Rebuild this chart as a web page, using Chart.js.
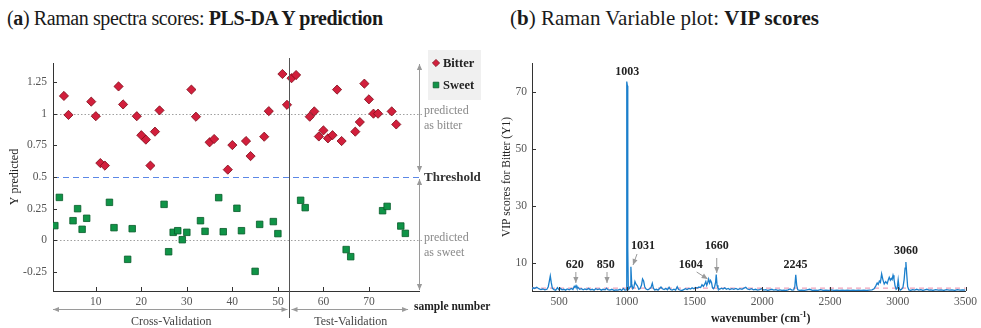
<!DOCTYPE html>
<html><head><meta charset="utf-8">
<script src="https://cdn.jsdelivr.net/npm/chart.js@4/dist/chart.umd.min.js"></script>
<style>
html,body{margin:0;padding:0;background:#fff;width:981px;height:328px;overflow:hidden;}
.t{position:absolute;font-family:'Liberation Serif',serif;font-size:21px;line-height:21px;color:#1a1a1a;white-space:nowrap;}
canvas{position:absolute;top:0;}
</style></head><body>
<div class="t" style="left:7px;top:8px;font-size:20px;letter-spacing:-0.4px">(<b>a</b>) Raman spectra scores: <b>PLS-DA Y prediction</b></div>
<div class="t" style="left:510px;top:8px">(<b>b</b>) Raman Variable plot: <b>VIP scores</b></div>
<canvas id="c1" width="495" height="328" style="left:0"></canvas>
<canvas id="c2" width="486" height="328" style="left:495px"></canvas>
<script>
const FONT = "'Liberation Serif', serif";

// ---------- Panel (a): PLS-DA Y prediction ----------
const classLabels = ['Bitter', 'Sweet'];
const bitterSamples = [3,4,9,10,11,12,15,16,19,20,21,22,23,24,31,32,35,36,39,40,43,44,47,48,51,52,
  53,54,57,58,59,60,61,62,63,64,67,68,69,70,71,72,75,76];
const bitterScores = [1.14,0.99,1.095,0.98,0.61,0.59,1.215,1.073,0.98,0.83,0.795,0.59,0.858,1.026,1.19,0.976,0.774,0.80,0.558,0.752,0.784,0.665,0.818,1.02,1.313,1.07,
  1.28,1.305,0.976,1.018,0.82,0.868,0.805,0.83,1.19,0.784,0.858,0.934,1.237,1.113,1.0,1.0,1.018,0.915];
const sweetSamples = [1,2,5,6,7,8,13,14,17,18,25,26,27,28,29,30,33,34,37,38,41,42,45,46,49,50,
  55,56,65,66,73,74,77,78];
const sweetScores = [0.116,0.339,0.155,0.25,0.087,0.174,0.30,0.10,-0.15,0.092,0.284,-0.09,0.063,0.076,0.005,0.063,0.155,0.071,0.337,0.068,0.253,0.076,-0.245,0.126,0.148,0.053,
  0.316,0.258,-0.073,-0.129,0.234,0.268,0.113,0.055];
const scoreTicks = [-0.25, 0, 0.25, 0.5, 0.75, 1, 1.25];
const sampleTicks = [10, 20, 30, 40, 50, 60, 70];
const classTargets = [1, 0];
const threshold = 0.5;
const cvEnd = 52.5;
const lastSample = 78;

// ---------- Panel (b): VIP scores ----------
const wavenumbers = [300,310,320,335,350,365,380,395,410,420,428,435,442,450,462,475,488,498,510,522,535,548,560,575,590,602,612,618,625,632,640,652,665,678,690,705,718,730,745,758,770,785,798,812,825,840,850,860,875,890,905,920,935,950,962,975,985,994,
  998,1001,1004,1007,1011,1018,1024,1030,1036,1044,1052,1060,1068,1078,1088,1098,1108,1116,1124,1132,1142,1155,1168,1178,1188,1196,1206,1218,1230,1242,1252,1262,1275,1288,1300,1312,1322,1335,1348,1360,1372,1382,1395,1408,1420,1432,1445,1458,1470,1482,1495,1508,1520,1532,1545,1555,1565,1575,1583,1590,1597,1604,1611,1618,1625,1632,1640,1648,1655,1660,1666,1673,1685,1698,1710,1722,1735,1748,1760,1775,1790,1805,1820,1835,1850,1865,1878,1890,1905,1920,1935,1950,1965,1980,1995,
  2010,2025,2040,2055,2070,2085,2100,2115,2130,2145,2160,2175,2190,2205,2218,2232,2240,2247,2254,2262,2275,2290,2310,2330,2350,2370,2390,2410,2430,2450,2470,2490,2510,2530,2550,2570,2590,2610,2630,2650,2670,2690,2710,2730,2750,2770,2790,2810,2825,2838,2848,2856,2864,2872,2881,2890,2900,2911,2922,2930,2937,2945,2952,2958,2965,2972,2980,2988,2996,
  3003,3010,3018,3028,3038,3047,3054,3060,3066,3073,3082,3095,3110,3125,3140,3155,3170,3185,3200,3215,3230,3245,3260,3280,3300,3320,3340,3360,3380,3400,3420,3440,3460,3480,3500];
const vipScores = [0.6,1.1,0.9,1.3,0.8,0.5,0.7,0.4,0.6,1.5,3.5,5.3,3.0,1.0,0.5,0.3,1.2,0.5,0.9,0.4,0.6,0.3,0.7,0.4,0.9,0.5,1.6,1.2,1.9,1.0,1.3,0.6,0.8,0.4,0.7,0.5,0.9,0.4,0.6,0.3,0.8,0.5,0.7,0.3,0.6,0.4,1.0,0.5,0.3,0.6,0.2,0.4,0.3,0.6,0.2,0.9,0.3,0.4,
  18,73.5,72,15,0.5,0.8,1.5,8.5,2.5,0.8,1.3,3.3,2.4,1.8,0.6,0.9,2.0,4.2,3.5,1.5,0.7,0.4,0.8,1.2,2.7,1.0,0.4,0.6,0.3,0.9,1.4,0.8,0.5,0.9,0.4,1.3,0.5,0.3,0.6,0.3,1.5,0.5,0.3,0.2,0.5,0.8,0.5,0.9,0.7,1.1,0.8,1.2,1.0,1.4,1.2,2.2,1.6,2.4,3.3,2.0,3.0,4.2,2.8,3.7,3.0,1.2,0.8,1.5,3.0,5.8,2.0,0.9,0.6,1.0,0.7,1.1,0.6,0.9,0.5,0.8,0.6,0.9,0.5,0.8,0.6,1.0,1.3,0.7,0.5,0.8,0.4,0.6,0.3,0.5,0.8,
  0.3,0.5,0.2,0.4,0.6,0.3,0.5,0.2,0.4,0.2,0.3,0.2,0.4,0.7,0.3,0.4,1.5,5.7,2.0,0.4,0.2,0.3,0.2,0.4,0.6,0.2,0.3,0.2,0.5,0.2,0.3,0.2,0.4,0.2,0.3,0.2,0.3,0.2,0.3,0.2,0.3,0.2,0.3,0.2,0.3,0.2,0.3,0.4,0.8,1.8,2.8,2.3,3.5,3.0,6.0,4.0,2.5,3.3,2.6,3.9,4.8,3.8,4.4,4.0,5.5,4.2,1.8,0.6,1.0,
  3.9,1.0,0.3,0.6,1.2,4.0,8.0,10.2,6.0,1.5,0.4,0.2,0.5,0.3,0.6,0.3,0.5,0.2,0.4,0.6,0.3,0.4,0.2,0.5,0.3,0.4,0.2,0.5,0.3,0.4,0.2,0.5,0.3,0.4,0.3];
const vipTicks = [10, 30, 50, 70];
const wnTicks = [500, 1000, 1500, 2000, 2500, 3000, 3500];
const vipCutoff = 1;
const peakWn = [620, 850, 1003, 1031, 1604, 1660, 2245, 3060];
const peakText = ['620', '850', '1003', '1031', '1604', '1660', '2245', '3060'];

// ---------- helpers ----------
function arrow(ctx, x1, y1, x2, y2, both, color) {
  ctx.save();
  ctx.strokeStyle = color; ctx.fillStyle = color; ctx.lineWidth = 1; ctx.setLineDash([]);
  ctx.beginPath(); ctx.moveTo(x1, y1); ctx.lineTo(x2, y2); ctx.stroke();
  const head = (tx, ty, fx, fy) => {
    const a = Math.atan2(ty - fy, tx - fx), L = 6, W = 2.6;
    ctx.beginPath(); ctx.moveTo(tx, ty);
    ctx.lineTo(tx - L * Math.cos(a) + W * Math.sin(a), ty - L * Math.sin(a) - W * Math.cos(a));
    ctx.lineTo(tx - L * Math.cos(a) - W * Math.sin(a), ty - L * Math.sin(a) + W * Math.cos(a));
    ctx.closePath(); ctx.fill();
  };
  head(x2, y2, x1, y1);
  if (both) head(x1, y1, x2, y2);
  ctx.restore();
}
function inwardTicks(chart, xt, yt) {
  const {ctx, chartArea: a, scales: {x, y}} = chart;
  ctx.save(); ctx.strokeStyle = '#333'; ctx.lineWidth = 1;
  ctx.beginPath();
  xt.forEach(v => { const px = Math.round(x.getPixelForValue(v)) + 0.5; ctx.moveTo(px, a.bottom); ctx.lineTo(px, a.bottom - 4); });
  yt.forEach(v => { const py = Math.round(y.getPixelForValue(v)) + 0.5; ctx.moveTo(a.left, py); ctx.lineTo(a.left + 4, py); });
  ctx.stroke(); ctx.restore();
}
function fixedTicks(list) { return s => { s.ticks = list.map(v => ({value: v})); }; }

const tickFont = {family: FONT, size: 11.5};

// ---------- Chart (a) ----------
const annotA = {
  id: 'annotA',
  beforeDatasetsDraw(chart) {
    const {ctx, chartArea: a, scales: {y}} = chart;
    ctx.save(); ctx.lineWidth = 1;
    ctx.strokeStyle = '#a0a0a0'; ctx.setLineDash([1.5, 2]);
    classTargets.forEach(v => {
      const py = Math.round(y.getPixelForValue(v)) + 0.5;
      ctx.beginPath(); ctx.moveTo(a.left, py); ctx.lineTo(a.right + 4, py); ctx.stroke();
    });
    ctx.strokeStyle = '#5b87e6'; ctx.setLineDash([6, 4]);
    const pt = Math.round(y.getPixelForValue(threshold)) + 0.5;
    ctx.beginPath(); ctx.moveTo(a.left, pt); ctx.lineTo(a.right, pt); ctx.stroke();
    ctx.restore();
  },
  afterDraw(chart) {
    const {ctx, chartArea: a, scales: {x, y}} = chart;
    inwardTicks(chart, sampleTicks, scoreTicks);
    const gray = '#9a9a9a';
    const yT = y.getPixelForValue(threshold);
    const ax = a.right + 0.5;
    arrow(ctx, ax, a.top + 1, ax, yT - 5, true, gray);
    arrow(ctx, ax, yT + 2, ax, a.bottom - 1, true, gray);
    // separator
    const xs = Math.round(x.getPixelForValue(cvEnd)) + 0.5;
    ctx.save(); ctx.strokeStyle = '#555'; ctx.lineWidth = 1;
    ctx.beginPath(); ctx.moveTo(xs, a.top - 5); ctx.lineTo(xs, a.bottom + 27); ctx.stroke(); ctx.restore();
    // bottom arrows
    const ya = a.bottom + 18.5;
    const xe = x.getPixelForValue(lastSample + 0.6);
    arrow(ctx, a.left, ya, xs - 2, ya, true, gray);
    arrow(ctx, xs + 2, ya, xe, ya, true, gray);
    ctx.save();
    ctx.textBaseline = 'middle';
    ctx.fillStyle = '#444'; ctx.font = `12px ${FONT}`; ctx.textAlign = 'center';
    ctx.fillText('Cross-Validation', (a.left + xs) / 2, a.bottom + 30.5);
    ctx.fillText('Test-Validation', (xs + xe) / 2 + 2, a.bottom + 30.5);
    ctx.textAlign = 'left'; ctx.fillStyle = '#222'; ctx.font = `bold 11.5px ${FONT}`;
    ctx.fillText('sample number', a.right - 5, a.bottom + 16);
    // side labels
    const tx = a.right + 5;
    ctx.fillStyle = '#8a8a8a'; ctx.font = `12px ${FONT}`;
    const y1 = y.getPixelForValue(classTargets[0]), y0 = y.getPixelForValue(classTargets[1]);
    ctx.fillText('predicted', tx, y1 - 2.5); ctx.fillText('as bitter', tx, y1 + 12.5);
    ctx.fillText('predicted', tx, y0 - 2.5); ctx.fillText('as sweet', tx, y0 + 12.5);
    ctx.fillStyle = '#333'; ctx.font = `bold 13px ${FONT}`;
    ctx.fillText('Threshold', tx, yT + 0.5);
    // legend
    const lx = a.right + 9, ly = a.top - 13;
    ctx.fillStyle = '#f0f0f0'; ctx.fillRect(lx, ly, 53, 50);
    chart.data.datasets.forEach((ds, i) => {
      const cy = ly + 13 + i * 22, cx = lx + 8;
      ctx.fillStyle = ds.backgroundColor; ctx.strokeStyle = ds.borderColor; ctx.lineWidth = 0.8;
      ctx.beginPath();
      if (ds.pointStyle === 'rectRot') { const r = 3.6; ctx.moveTo(cx - r, cy); ctx.lineTo(cx, cy - r); ctx.lineTo(cx + r, cy); ctx.lineTo(cx, cy + r); ctx.closePath(); }
      else { ctx.rect(cx - 2.8, cy - 2.8, 5.6, 5.6); }
      ctx.fill(); ctx.stroke();
      ctx.fillStyle = '#222'; ctx.font = `bold 12.5px ${FONT}`;
      ctx.fillText(ds.label, cx + 7, cy + 0.5);
    });
    ctx.restore();
  }
};

new Chart(document.getElementById('c1'), {
  type: 'scatter',
  data: {
    datasets: [
      {label: classLabels[0], data: bitterSamples.map((s, i) => ({x: s, y: bitterScores[i]})),
       pointStyle: 'rectRot', pointRadius: 4.6, backgroundColor: '#d21f3c', borderColor: '#7d0a18', borderWidth: 0.8},
      {label: classLabels[1], data: sweetSamples.map((s, i) => ({x: s, y: sweetScores[i]})),
       pointStyle: 'rect', pointRadius: 4.6, backgroundColor: '#0f9447', borderColor: '#075c2a', borderWidth: 0.8}
    ]
  },
  options: {
    responsive: false, animation: false, devicePixelRatio: 1,
    layout: {padding: {left: 0, top: 63, right: 76, bottom: 13}},
    plugins: {legend: {display: false}, tooltip: {enabled: false}},
    scales: {
      x: {type: 'linear', min: 0.6, max: 81, afterBuildTicks: fixedTicks(sampleTicks), afterFit: s => { s.height = 24; },
          grid: {display: false, drawTicks: false}, border: {display: true, color: '#333', width: 1},
          ticks: {font: tickFont, color: '#555', padding: 4, maxRotation: 0, autoSkip: false, callback: v => String(v)}},
      y: {type: 'linear', min: -0.4, max: 1.4, afterBuildTicks: fixedTicks(scoreTicks), afterFit: s => { s.width = 53; },
          grid: {display: false, drawTicks: false}, border: {display: true, color: '#333', width: 1},
          ticks: {font: tickFont, color: '#555', padding: 6, callback: v => String(v)},
          title: {display: true, text: 'Y predicted', font: {family: FONT, size: 12}, color: '#222', padding: {top: 8, bottom: 0}}}
    }
  },
  plugins: [annotA]
});

// ---------- Chart (b) ----------
const notesLayout = {
  '620':  {dx: -0.5, ly: 26, arrow: [0.5, 19, 0.5, 8]},
  '850':  {dx: -0.7, ly: 26, arrow: [0.5, 19, 0.5, 8]},
  '1003': {dx: 0, ly: 219},
  '1031': {dx: 12, ly: 45, arrow: [6, 37, 2, 26]},
  '1604': {dx: -18, ly: 26, arrow: [-12, 19, -1, 12]},
  '1660': {dx: 0.5, ly: 45, arrow: [0.5, 33, 0.5, 18]},
  '2245': {dx: 0, ly: 26},
  '3060': {dx: 0, ly: 40}
};
const annotB = {
  id: 'annotB',
  beforeDatasetsDraw(chart) {
    const {ctx, chartArea: a, scales: {y}} = chart;
    ctx.save(); ctx.strokeStyle = '#f0a3bb'; ctx.lineWidth = 1.2; ctx.setLineDash([5, 4]);
    const py = y.getPixelForValue(vipCutoff);
    ctx.beginPath(); ctx.moveTo(a.left, py); ctx.lineTo(a.right, py); ctx.stroke(); ctx.restore();
  },
  afterDraw(chart) {
    const {ctx, chartArea: a, scales: {x, y}} = chart;
    inwardTicks(chart, wnTicks, vipTicks);
    const y0 = y.getPixelForValue(0);
    ctx.save();
    ctx.textAlign = 'center'; ctx.textBaseline = 'middle';
    peakWn.forEach((w, i) => {
      const L = notesLayout[peakText[i]];
      const px = x.getPixelForValue(w);
      ctx.fillStyle = '#222'; ctx.font = `bold 12px ${FONT}`;
      ctx.fillText(peakText[i], px + L.dx, y0 - L.ly);
      if (L.arrow) arrow(ctx, px + L.arrow[0], y0 - L.arrow[1], px + L.arrow[2], y0 - L.arrow[3], false, '#9a9a9a');
    });
    // x title with superscript
    const cx = (a.left + a.right) / 2 + 12, cy = a.bottom + 28;
    ctx.fillStyle = '#222';
    const main = 'wavenumber (cm', sup = '-1', end = ')';
    ctx.font = `bold 12px ${FONT}`; const w1 = ctx.measureText(main).width, w3 = ctx.measureText(end).width;
    ctx.font = `bold 8px ${FONT}`; const w2 = ctx.measureText(sup).width;
    let sx = cx - (w1 + w2 + w3) / 2;
    ctx.textAlign = 'left';
    ctx.font = `bold 12px ${FONT}`; ctx.fillText(main, sx, cy); sx += w1;
    ctx.font = `bold 8px ${FONT}`; ctx.fillText(sup, sx, cy - 4); sx += w2;
    ctx.font = `bold 12px ${FONT}`; ctx.fillText(end, sx, cy);
    ctx.restore();
  }
};

new Chart(document.getElementById('c2'), {
  type: 'line',
  data: {datasets: [{label: 'VIP', data: wavenumbers.map((w, i) => ({x: w, y: vipScores[i]})),
    borderColor: '#1b7fcc', borderWidth: 1.3, pointRadius: 0, tension: 0, fill: false}]},
  options: {
    responsive: false, animation: false, devicePixelRatio: 1,
    layout: {padding: {left: 0, top: 63, right: 14, bottom: 13}},
    plugins: {legend: {display: false}, tooltip: {enabled: false}},
    scales: {
      x: {type: 'linear', min: 300, max: 3500, afterBuildTicks: fixedTicks(wnTicks), afterFit: s => { s.height = 24; },
          grid: {display: false, drawTicks: false}, border: {display: true, color: '#333', width: 1},
          ticks: {font: tickFont, color: '#555', padding: 4, maxRotation: 0, autoSkip: false, callback: v => String(v)}},
      y: {type: 'linear', min: 0, max: 80, afterBuildTicks: fixedTicks(vipTicks), afterFit: s => { s.width = 37; },
          grid: {display: false, drawTicks: false}, border: {display: true, color: '#333', width: 1},
          ticks: {font: tickFont, color: '#555', padding: 5, callback: v => String(v)},
          title: {display: true, text: 'VIP scores for Bitter (Y1)', font: {family: FONT, size: 11.5}, color: '#222', padding: {top: 5, bottom: 0}}}
    }
  },
  plugins: [annotB]
});
</script>
</body></html>
